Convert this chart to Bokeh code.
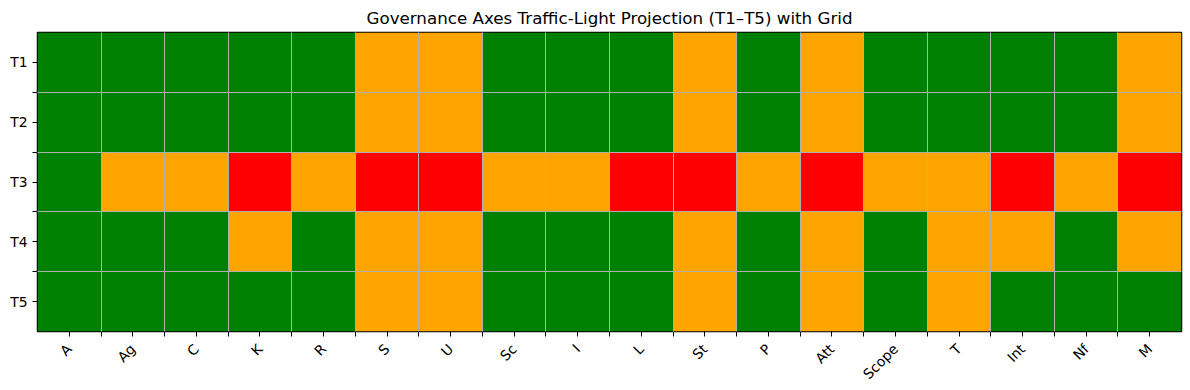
import math
from bokeh.plotting import figure
from bokeh.models import ColumnDataSource, FixedTicker, Range1d
from bokeh.embed import file_html
from bokeh.resources import INLINE

axes = ["A", "Ag", "C", "K", "R", "S", "U", "Sc", "I", "L", "St", "P", "Att", "Scope", "T", "Int", "Nf", "M"]
stages = ["T1", "T2", "T3", "T4", "T5"]
T1 = ["G", "G", "G", "G", "G", "A", "A", "G", "G", "G", "A", "G", "A", "G", "G", "G", "G", "A"]
T2 = ["G", "G", "G", "G", "G", "A", "A", "G", "G", "G", "A", "G", "A", "G", "G", "G", "G", "A"]
T3 = ["G", "A", "A", "R", "A", "R", "R", "A", "A", "R", "R", "A", "R", "A", "A", "R", "A", "R"]
T4 = ["G", "G", "G", "A", "G", "A", "A", "G", "G", "G", "A", "G", "A", "G", "A", "A", "G", "A"]
T5 = ["G", "G", "G", "G", "G", "A", "A", "G", "G", "G", "A", "G", "A", "G", "A", "G", "G", "G"]
rows = [T1, T2, T3, T4, T5]
palette = {"G": "#008000", "A": "#FFA500", "R": "#FF0000"}

xs, ys, cs = [], [], []
for r, row in enumerate(rows):
    for c, s in enumerate(row):
        xs.append(c + 0.5)
        ys.append(r + 0.5)
        cs.append(palette[s])
src = ColumnDataSource(dict(x=xs, y=ys, color=cs))

p = figure(width=1190, height=390, output_backend="svg", toolbar_location=None,
           x_range=Range1d(0, len(axes)), y_range=Range1d(len(stages), 0),
           title="Governance Axes Traffic-Light Projection (T1\u2013T5) with Grid",
           min_border_left=37, min_border_right=9, min_border_top=32, min_border_bottom=59)
p.rect(x="x", y="y", width=1, height=1, fill_color="color", line_color=None, source=src)

p.title.align = "center"
p.title.text_font = "DejaVu Sans"
p.title.text_font_size = "16.7px"
p.title.text_font_style = "normal"
p.title.text_color = "#000000"

xc = [i + 0.5 for i in range(len(axes))]
yc = [i + 0.5 for i in range(len(stages))]
xb = [float(i) for i in range(1, len(axes))]
yb = [float(i) for i in range(1, len(stages))]

p.xaxis.ticker = FixedTicker(ticks=xc, minor_ticks=xb)
p.yaxis.ticker = FixedTicker(ticks=yc, minor_ticks=yb)
p.xaxis.major_label_overrides = {x: a for x, a in zip(xc, axes)}
p.yaxis.major_label_overrides = {y: s for y, s in zip(yc, stages)}
p.xaxis.major_label_orientation = math.pi / 4
p.xaxis.major_label_standoff = 10

for ax in (p.xaxis, p.yaxis):
    ax.major_label_text_font = "DejaVu Sans"
    ax.major_label_text_font_size = "13.9px"
    ax.major_label_text_color = "#000000"
    ax.axis_line_color = None
    ax.major_tick_line_color = "#000000"
    ax.minor_tick_line_color = "#000000"
    ax.major_tick_out = 5
    ax.major_tick_in = 0
    ax.minor_tick_out = 5
    ax.minor_tick_in = 0

p.xgrid.ticker = FixedTicker(ticks=xb)
p.ygrid.ticker = FixedTicker(ticks=yb)
for g in (p.xgrid, p.ygrid):
    g.grid_line_color = "#b0b0b0"
    g.grid_line_width = 1
    g.level = "overlay"

p.outline_line_color = "#000000"
p.outline_line_width = 1.5
p.background_fill_color = "white"

open("out.html", "w").write(file_html(p, INLINE))
